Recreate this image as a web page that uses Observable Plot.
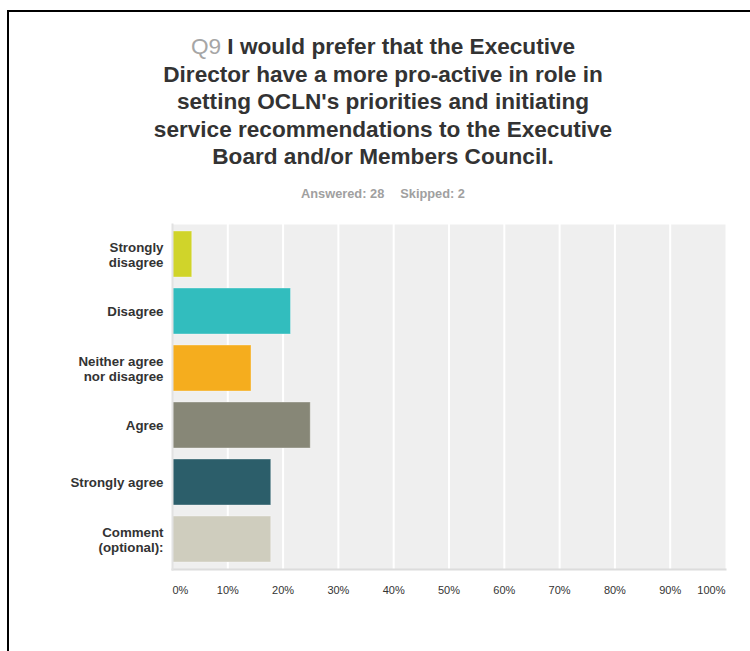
<!DOCTYPE html>
<html>
<head>
<meta charset="utf-8">
<script src="https://cdn.jsdelivr.net/npm/d3@7"></script>
<script src="https://cdn.jsdelivr.net/npm/@observablehq/plot@0.6"></script>
<style>
  html, body { margin: 0; padding: 0; background: #fff; overflow: hidden; width: 750px; height: 651px; }
  body { position: relative; font-family: "Liberation Sans", Arial, sans-serif; }
  #frame { position: absolute; left: 7px; top: 10px; width: 800px; height: 700px; border: 2.5px solid #000; box-sizing: border-box; }
  #title { position: absolute; left: 33px; width: 700px; top: 33px; text-align: center; font-size: 22.6px; line-height: 27.5px; font-weight: bold; color: #333; white-space: nowrap; }
  #title .q { color: #a6a6a6; font-weight: normal; }
  #sub { position: absolute; left: 83px; width: 600px; top: 186px; text-align: center; font-size: 12.8px; line-height: 15px; font-weight: bold; color: #a0a0a0; white-space: nowrap; }
  #sub .gap { display: inline-block; width: 16px; }
  #chart { position: absolute; left: 0; top: 215px; }
</style>
</head>
<body>
<div id="frame"></div>
<div id="title"><span class="q">Q9</span> I would prefer that the Executive<br>Director have a more pro-active in role in<br>setting OCLN's priorities and initiating<br>service recommendations to the Executive<br>Board and/or Members Council.</div>
<div id="sub">Answered: 28<span class="gap"></span>Skipped: 2</div>
<div id="chart"></div>
<script>
const categories = ["Strongly disagree", "Disagree", "Neither agree nor disagree", "Agree", "Strongly agree", "Comment (optional):"];
const categoryLabels = ["Strongly\ndisagree", "Disagree", "Neither agree\nnor disagree", "Agree", "Strongly agree", "Comment\n(optional):"];
const percents = [3.57, 21.43, 14.29, 25.0, 17.86, 17.86];
const colors = ["#d0d42a", "#32bdbe", "#f5ad1e", "#878777", "#2c5e6a", "#cfcdbe"];
const tickValues = [0, 10, 20, 30, 40, 50, 60, 70, 80, 90, 100];
const tickLabels = ["0%", "10%", "20%", "30%", "40%", "50%", "60%", "70%", "80%", "90%", "100%"];

const data = categories.map((c, i) => ({category: c, value: percents[i], color: colors[i]}));
const labelOf = new Map(categories.map((c, i) => [c, categoryLabels[i]]));
const tickOf = new Map(tickValues.map((v, i) => [v, tickLabels[i]]));

const axisText = {fontSize: 11, fill: "#333", fontFamily: "Liberation Sans, Arial, sans-serif"};

const chart = Plot.plot({
  width: 750,
  height: 400,
  marginLeft: 172,
  marginRight: 25,
  marginTop: 9,
  marginBottom: 46,
  style: {fontFamily: "Liberation Sans, Arial, sans-serif", background: "transparent"},
  x: {domain: [0, 100]},
  y: {domain: categories, paddingInner: 0.2, paddingOuter: 0.1},
  marks: [
    Plot.frame({fill: "#efefef", stroke: null}),
    Plot.ruleX(tickValues.filter(v => v > 0 && v < 100), {stroke: "#fff", strokeWidth: 2}),
    Plot.barX(data, {x: "value", y: "category", fill: "color", stroke: "#ffffff", strokeOpacity: 0.35, strokeWidth: 1}),
    Plot.frame({anchor: "bottom", stroke: "#dcdcdc", strokeWidth: 2}),
    Plot.frame({anchor: "left", stroke: "#e2e2e2", strokeWidth: 2}),
    Plot.axisY({tickSize: 0, tickPadding: 9, label: null, tickFormat: d => labelOf.get(d), fontWeight: "bold", lineHeight: 1.12, fontSize: 13.3, fill: "#333", fontFamily: "Liberation Sans, Arial, sans-serif"}),
    Plot.axisX({ticks: tickValues.slice(1, -1), tickSize: 0, tickPadding: 17, label: null, tickFormat: d => tickOf.get(d), ...axisText}),
    Plot.axisX({ticks: [0], tickSize: 0, tickPadding: 17, label: null, tickFormat: d => tickOf.get(d), textAnchor: "start", ...axisText}),
    Plot.axisX({ticks: [100], tickSize: 0, tickPadding: 17, label: null, tickFormat: d => tickOf.get(d), textAnchor: "end", ...axisText})
  ]
});
document.getElementById("chart").appendChild(chart);
</script>
</body>
</html>
